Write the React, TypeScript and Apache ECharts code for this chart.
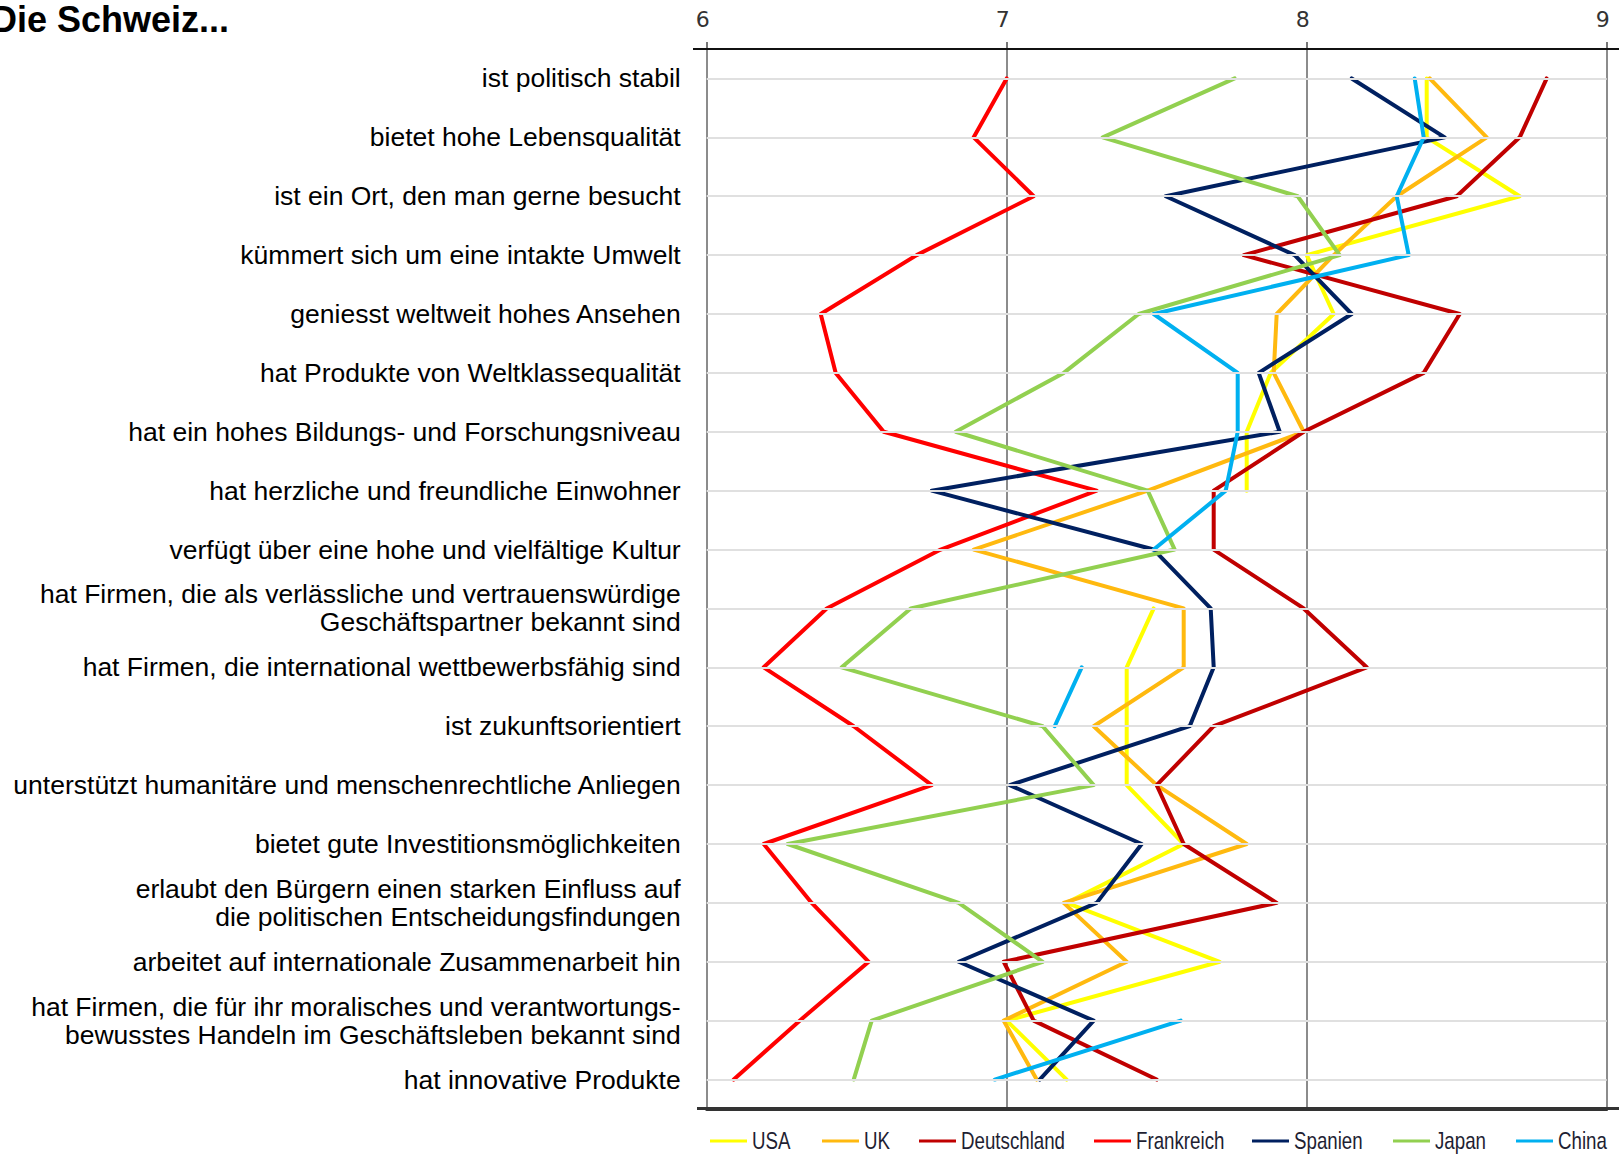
import React, { useEffect, useRef } from "react";
import * as echarts from "echarts";

const categories: string[] = [
  "ist politisch stabil",
  "bietet hohe Lebensqualität",
  "ist ein Ort, den man gerne besucht",
  "kümmert sich um eine intakte Umwelt",
  "geniesst weltweit hohes Ansehen",
  "hat Produkte von Weltklassequalität",
  "hat ein hohes Bildungs- und Forschungsniveau",
  "hat herzliche und freundliche Einwohner",
  "verfügt über eine hohe und vielfältige Kultur",
  "hat Firmen, die als verlässliche und vertrauenswürdige\nGeschäftspartner bekannt sind",
  "hat Firmen, die international wettbewerbsfähig sind",
  "ist zukunftsorientiert",
  "unterstützt humanitäre und menschenrechtliche Anliegen",
  "bietet gute Investitionsmöglichkeiten",
  "erlaubt den Bürgern einen starken Einfluss auf\ndie politischen Entscheidungsfindungen",
  "arbeitet auf internationale Zusammenarbeit hin",
  "hat Firmen, die für ihr moralisches und verantwortungs-\nbewusstes Handeln im Geschäftsleben bekannt sind",
  "hat innovative Produkte",
];

const usa = [8.40, 8.40, 8.71, 8.00, 8.09, 7.88, 7.80, 7.80, null, 7.49, 7.40, 7.40, 7.40, 7.59, 7.20, 7.71, 7.00, 7.20];
const uk = [8.41, 8.60, 8.30, 8.09, 7.90, 7.89, 7.99, 7.47, 6.89, 7.59, 7.59, 7.29, 7.50, 7.80, 7.19, 7.40, 6.99, 7.10];
const deutschland = [8.80, 8.71, 8.50, 7.79, 8.51, 8.39, 7.99, 7.69, 7.69, 7.99, 8.20, 7.69, 7.50, 7.59, 7.90, 6.99, 7.09, 7.50];
const frankreich = [7.00, 6.89, 7.09, 6.70, 6.38, 6.43, 6.59, 7.30, 6.78, 6.40, 6.19, 6.49, 6.75, 6.19, 6.35, 6.54, 6.31, 6.09];
const spanien = [8.15, 8.46, 7.53, 7.96, 8.15, 7.84, 7.91, 6.75, 7.49, 7.68, 7.69, 7.61, 7.01, 7.45, 7.30, 6.84, 7.29, 7.11];
const japan = [7.76, 7.32, 7.97, 8.11, 7.44, 7.19, 6.83, 7.47, 7.56, 6.68, 6.45, 7.12, 7.29, 6.27, 6.84, 7.12, 6.55, 6.49];
const china = [8.36, 8.39, 8.30, 8.34, 7.49, 7.77, 7.77, 7.73, 7.49, null, 7.25, 7.16, null, null, null, null, 7.58, 6.96];

const seriesNames = ["USA", "UK", "Deutschland", "Frankreich", "Spanien", "Japan", "China"];
const seriesValues = [usa, uk, deutschland, frankreich, spanien, japan, china];
const seriesColors = ["#FFFF00", "#FFB90F", "#C00000", "#FF0000", "#002060", "#92D050", "#00B0F0"];

const xTicks = [6, 7, 8, 9];

// layout (pixels)
const GRID_LEFT = 706.7;
const GRID_RIGHT = 12.3;
const GRID_TOP = 49;
const GRID_HEIGHT = 1060;
const LEGEND_ITEM_X = [710, 822, 919, 1094, 1252, 1393, 1516];
const LEGEND_Y = 1141;

export default function App() {
  const ref = useRef<HTMLDivElement>(null);

  useEffect(() => {
    document.body.style.margin = "0";
    const chart = echarts.init(ref.current!, null, { renderer: "svg" });
    const labelFont = "'Liberation Sans', Arial, sans-serif";

    const lineSeries: any[] = seriesNames.map((name, i) => ({
      name,
      type: "line",
      data: seriesValues[i],
      symbol: "none",
      connectNulls: false,
      z: 3,
      lineStyle: { color: seriesColors[i], width: 4, join: "round", cap: "round" },
      itemStyle: { color: seriesColors[i] },
    }));

    const gridSeries = {
      name: "grid",
      type: "line",
      data: categories.map(() => null),
      symbol: "none",
      z: 1,
      silent: true,
      markLine: {
        silent: true,
        symbol: ["none", "none"],
        label: { show: false },
        lineStyle: { color: "#e0e0e0", width: 2, type: "solid" },
        emphasis: { disabled: true },
        data: categories.map((_, i) => ({ yAxis: i })),
      },
    };

    const legendGraphics: any[] = [];
    seriesNames.forEach((name, i) => {
      const x0 = LEGEND_ITEM_X[i];
      legendGraphics.push({
        type: "rect",
        shape: { x: x0, y: LEGEND_Y - 1.5, width: 37, height: 3 },
        style: { fill: seriesColors[i] },
        silent: true,
      });
      legendGraphics.push({
        type: "text",
        x: x0 + 42,
        y: LEGEND_Y,
        scaleX: 0.78,
        style: {
          text: name,
          font: "24px 'Liberation Sans', Arial, sans-serif",
          fill: "#1f1f33",
          textVerticalAlign: "middle",
          textAlign: "left",
        },
        silent: true,
      });
    });

    const option: any = {
      animation: false,
      backgroundColor: "#ffffff",
      grid: { left: GRID_LEFT, right: GRID_RIGHT, top: GRID_TOP, height: GRID_HEIGHT },
      xAxis: [
        {
          type: "value",
          position: "top",
          min: xTicks[0],
          max: xTicks[xTicks.length - 1],
          interval: 1,
          axisLine: { show: true, lineStyle: { color: "#111", width: 2 } },
          axisTick: { show: true, length: 7, lineStyle: { color: "#777", width: 2 } },
          axisLabel: {
            show: true,
            margin: 19,
            fontSize: 22,
            color: "#333",
            fontFamily: "'DejaVu Sans', sans-serif",
            padding: [0, 8, 0, 0],
          },
          splitLine: { show: true, lineStyle: { color: "#8c8c8c", width: 2 } },
        },
        {
          type: "value",
          position: "bottom",
          min: xTicks[0],
          max: xTicks[xTicks.length - 1],
          interval: 1,
          axisLine: { show: true, lineStyle: { color: "#333", width: 3 } },
          axisTick: { show: false },
          axisLabel: { show: false },
          splitLine: { show: false },
        },
      ],
      yAxis: {
        type: "category",
        inverse: true,
        data: categories,
        boundaryGap: true,
        axisLine: { show: true, lineStyle: { color: "#8c8c8c", width: 2 } },
        axisTick: { show: false },
        splitLine: { show: false },
        axisLabel: {
          interval: 0,
          margin: 26,
          fontSize: 26.5,
          lineHeight: 28,
          color: "#000",
          fontFamily: labelFont,
          align: "right",
        },
      },
      graphic: [
        {
          type: "text",
          x: -9,
          y: 19,
          style: {
            text: "Die Schweiz...",
            font: "bold 36px 'Liberation Sans', Arial, sans-serif",
            fill: "#000",
            textVerticalAlign: "middle",
          },
        },
        {
          type: "line",
          shape: { x1: 693, y1: 49, x2: 1619, y2: 49 },
          style: { stroke: "#111", lineWidth: 2 },
          z: 10,
        },
        {
          type: "line",
          shape: { x1: 697, y1: 1108.5, x2: 1619, y2: 1108.5 },
          style: { stroke: "#333", lineWidth: 3 },
          z: 10,
        },
        ...legendGraphics,
      ],
      series: [gridSeries, ...lineSeries],
    };

    chart.setOption(option);
    return () => chart.dispose();
  }, []);

  return (
    <div
      ref={ref}
      style={{ position: "absolute", left: 0, top: 0, width: 1619, height: 1154 }}
    />
  );
}
